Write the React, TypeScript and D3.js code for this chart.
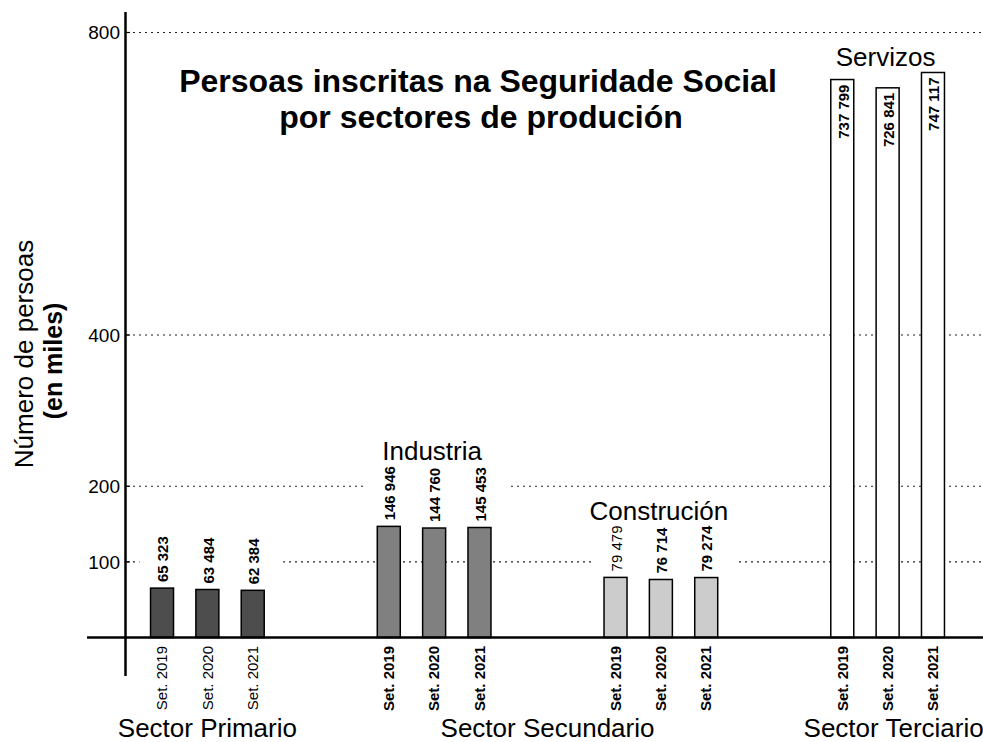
import { useEffect, useRef } from 'react';
import * as d3 from 'd3';

const sectors = ['Primario', 'Industria', 'Construción', 'Servizos'];
const years = ['Set. 2019', 'Set. 2020', 'Set. 2021'];

// thousands of people
const primario = [65.323, 63.484, 62.384];
const industria = [146.946, 144.76, 145.453];
const construcion = [79.479, 76.714, 79.274];
const servizos = [737.799, 726.841, 747.117];

const groupTitles = ['', 'Industria', 'Construción', 'Servizos'];
const sectorLabels = ['Sector Primario', 'Sector Secundario', 'Sector Terciario'];
const yTicks = [100, 200, 400, 800];

const fills = ['#4d4d4d', '#808080', '#cccccc', '#ffffff'];
const valueBold = [[true, true, true], [true, true, true], [false, true, true], [true, true, true]];
const yearBold = [false, true, true, true];
const labelInside = [false, false, false, true];

const FONT = '"Liberation Sans", Arial, Helvetica, sans-serif';

const App = () => {
  const svgRef = useRef<SVGSVGElement>(null);

  useEffect(() => {
    document.body.style.margin = '0';
    const width = 983;
    const height = 742;
    const series = [primario, industria, construcion, servizos];

    const svg = d3.select(svgRef.current)
      .attr('width', width)
      .attr('height', height)
      .style('font-family', FONT);
    svg.selectAll('*').remove();

    const x0 = d3.scaleBand().domain(sectors).range([94, 1001]);
    const x1 = d3.scaleBand().domain(years)
      .range([x0.bandwidth() * 0.2, x0.bandwidth() * 0.8])
      .paddingInner(0.493)
      .paddingOuter(0.2465);
    const y = d3.scaleLinear().domain([0, 800]).range([637.5, 32.5]);

    const fmt = d3.formatLocale({ decimal: ',', thousands: ' ', grouping: [3], currency: ['', ''] }).format(',d');

    // gridlines
    svg.append('g')
      .selectAll('line')
      .data(yTicks)
      .enter().append('line')
      .attr('x1', 127)
      .attr('x2', width)
      .attr('y1', d => y(d))
      .attr('y2', d => y(d))
      .attr('stroke', '#222')
      .attr('stroke-width', 1.2)
      .attr('stroke-dasharray', '2,4');

    const gapLayer = svg.append('g');
    const barLayer = svg.append('g');
    const labelLayer = svg.append('g');

    sectors.forEach((s, gi) => {
      const vals = series[gi];
      const gx = x0(s)!;
      const cx = (yr: string) => gx + x1(yr)! + x1.bandwidth() / 2;

      barLayer.selectAll(`.bar-${gi}`)
        .data(vals)
        .enter().append('rect')
        .attr('x', (_, i) => gx + x1(years[i])!)
        .attr('y', d => y(d))
        .attr('width', x1.bandwidth())
        .attr('height', d => y(0) - y(d))
        .attr('fill', fills[gi])
        .attr('stroke', '#000')
        .attr('stroke-width', 1.5);

      const inside = labelInside[gi];
      const vLabels = labelLayer.selectAll(`.val-${gi}`)
        .data(vals)
        .enter().append('text')
        .attr('transform', (d, i) => `translate(${cx(years[i]) + 1},${inside ? y(d) + 5 : y(d) - 6}) rotate(-90)`)
        .attr('text-anchor', inside ? 'end' : 'start')
        .attr('dy', '0.35em')
        .attr('font-size', 15)
        .attr('font-weight', (_, i) => valueBold[gi][i] ? 'bold' : 'normal')
        .text(d => fmt(Math.round(d * 1000)));

      labelLayer.selectAll(`.year-${gi}`)
        .data(years)
        .enter().append('text')
        .attr('transform', d => `translate(${cx(d)},646) rotate(-90)`)
        .attr('text-anchor', 'end')
        .attr('dy', '0.35em')
        .attr('font-size', 15)
        .attr('font-weight', yearBold[gi] ? 'bold' : 'normal')
        .text(d => d);

      const maxTop = y(d3.max(vals)!);
      let titleY = maxTop - 6;
      if (!inside) {
        const tops = vLabels.nodes().map((n, i) => y(vals[i]) - 6 - (n as SVGTextElement).getComputedTextLength());
        const minTop = d3.min(tops)!;
        titleY = minTop - 6;
        gapLayer.append('rect')
          .attr('x', gx + x1(years[0])! - 11)
          .attr('width', x1(years[2])! - x1(years[0])! + x1.bandwidth() + 30)
          .attr('y', minTop - 3)
          .attr('height', maxTop - minTop + 3)
          .attr('fill', '#fff');
      }

      if (groupTitles[gi]) {
        labelLayer.append('text')
          .attr('x', gx + x0.bandwidth() / 2 - 2)
          .attr('y', titleY)
          .attr('text-anchor', 'middle')
          .attr('font-size', 26)
          .text(groupTitles[gi]);
      }
    });

    // sector labels at the bottom
    const center = (s: string) => x0(s)! + x0.bandwidth() / 2;
    const sectorX = [center(sectors[0]), (center(sectors[1]) + center(sectors[2])) / 2, center(sectors[3]) + 6];
    svg.append('g')
      .selectAll('text')
      .data(sectorLabels)
      .enter().append('text')
      .attr('x', (_, i) => sectorX[i])
      .attr('y', 737)
      .attr('text-anchor', 'middle')
      .attr('font-size', 26)
      .text(d => d);

    // axes
    svg.append('line')
      .attr('x1', 87).attr('x2', width)
      .attr('y1', y(0)).attr('y2', y(0))
      .attr('stroke', '#000').attr('stroke-width', 2.5);
    svg.append('line')
      .attr('x1', 125.5).attr('x2', 125.5)
      .attr('y1', 12).attr('y2', 676)
      .attr('stroke', '#000').attr('stroke-width', 2.5);

    const ticks = svg.append('g');
    ticks.selectAll('line')
      .data(yTicks)
      .enter().append('line')
      .attr('x1', 125).attr('x2', 130)
      .attr('y1', d => y(d)).attr('y2', d => y(d))
      .attr('stroke', '#000').attr('stroke-width', 1.2);
    ticks.selectAll('text')
      .data(yTicks)
      .enter().append('text')
      .attr('x', 120)
      .attr('y', d => y(d))
      .attr('dy', '0.35em')
      .attr('text-anchor', 'end')
      .attr('font-size', 19)
      .text(d => d);

    // y axis title
    svg.append('text')
      .attr('transform', 'translate(33,354) rotate(-90)')
      .attr('text-anchor', 'middle')
      .attr('font-size', 26)
      .text('Número de persoas');
    svg.append('text')
      .attr('transform', 'translate(62,361) rotate(-90)')
      .attr('text-anchor', 'middle')
      .attr('font-size', 25)
      .attr('font-weight', 'bold')
      .text('(en miles)');

    // chart title
    const title = svg.append('text')
      .attr('text-anchor', 'middle')
      .attr('font-size', 32)
      .attr('font-weight', 'bold');
    title.append('tspan').attr('x', 478).attr('y', 92).text('Persoas inscritas na Seguridade Social');
    title.append('tspan').attr('x', 481).attr('y', 128).text('por sectores de produción');
  }, []);

  return (
    <div>
      <svg ref={svgRef} />
    </div>
  );
};

export default App;
